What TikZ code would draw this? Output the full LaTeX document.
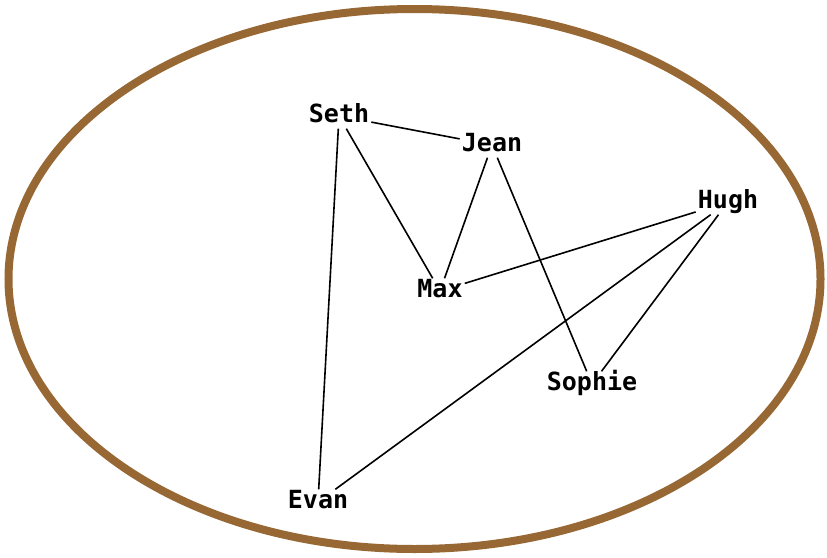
\documentclass[tikz,border=0pt]{standalone}
\usepackage{fontspec}
\setmonofont{DejaVu Sans Mono}
\usetikzlibrary{calc}
\definecolor{rim}{RGB}{152,104,52}

\begin{document}
\begin{tikzpicture}[x=1pt,y=-1pt,
  person/.style={font=\ttfamily\bfseries\fontsize{25}{27}\selectfont, inner sep=2pt,
    text height=17pt, text depth=4pt},
  tie/.style={line width=1.6pt}]
\useasboundingbox (0,0) rectangle (827,557);
\draw[rim, line width=8pt] (414.5,279) ellipse [x radius=406, y radius=270];
\node[person] (seth) at (339,116) {Seth};
\node[person] (jean) at (492,145) {Jean};
\node[person] (hugh) at (728,202) {Hugh};
\node[person] (max) at (440,291) {Max};
\node[person] (sophie) at (592,384) {Sophie};
\node[person] (evan) at (318,502) {Evan};
\draw[tie] (seth)--(jean);
\draw[tie] (seth)--(max);
\draw[tie] (seth)--(evan);
\draw[tie] (jean)--(max);
\draw[tie] (jean)--(sophie);
\draw[tie] (hugh)--(max);
\draw[tie] (hugh)--(evan);
\draw[tie] (hugh)--(sophie);
\end{tikzpicture}
\end{document}
